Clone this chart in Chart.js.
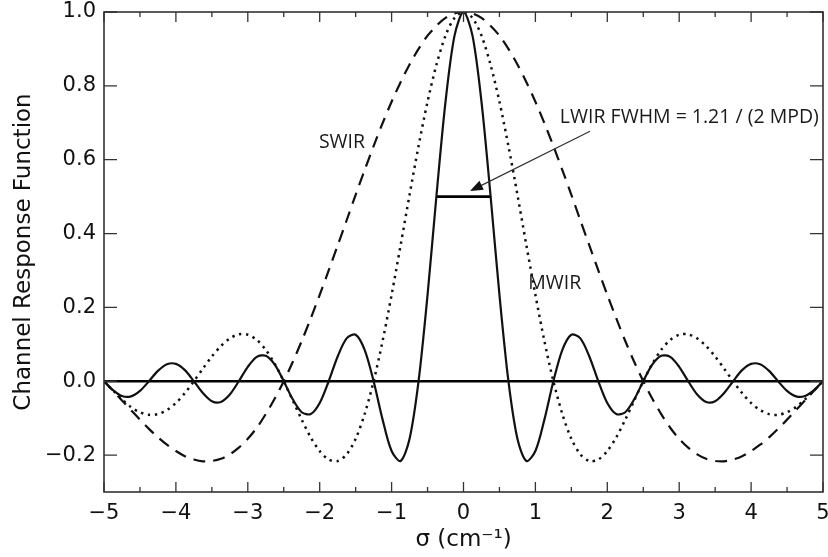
<!DOCTYPE html>
<html>
<head>
<meta charset="utf-8">
<script src="https://cdn.jsdelivr.net/npm/chart.js@4.4.1/dist/chart.umd.min.js"></script>
<style>
  html, body { margin: 0; padding: 0; background: #fff; }
</style>
</head>
<body>
<canvas id="grafico" width="828" height="557"></canvas>
<script>
// Numero de onda sigma (cm-1), paso de 0.125
let sigma = [
  -5, -4.875, -4.75, -4.625, -4.5, -4.375, -4.25, -4.125, -4, -3.875, -3.75, -3.625, -3.5, -3.375, -3.25, -3.125,
  -3, -2.875, -2.75, -2.625, -2.5, -2.375, -2.25, -2.125, -2, -1.875, -1.75, -1.625, -1.5, -1.375, -1.25, -1.125,
  -1, -0.875, -0.75, -0.625, -0.5, -0.375, -0.25, -0.125, 0,
  0.125, 0.25, 0.375, 0.5, 0.625, 0.75, 0.875, 1, 1.125, 1.25, 1.375, 1.5, 1.625, 1.75, 1.875, 2,
  2.125, 2.25, 2.375, 2.5, 2.625, 2.75, 2.875, 3, 3.125, 3.25, 3.375, 3.5, 3.625, 3.75, 3.875, 4,
  4.125, 4.25, 4.375, 4.5, 4.625, 4.75, 4.875, 5
];

// Respuesta del canal SWIR (linea discontinua)
let swir = [
  0, -0.026, -0.052, -0.078, -0.104, -0.129, -0.152, -0.172, -0.189, -0.203, -0.212, -0.217, -0.216, -0.210, -0.198, -0.180,
  -0.156, -0.126, -0.089, -0.047, 0, 0.052, 0.109, 0.170, 0.234, 0.300, 0.368, 0.436, 0.505, 0.572, 0.637, 0.699,
  0.757, 0.810, 0.858, 0.900, 0.936, 0.963, 0.984, 0.996, 1.000,
  0.996, 0.984, 0.963, 0.936, 0.900, 0.858, 0.810, 0.757, 0.699, 0.637, 0.572, 0.505, 0.436, 0.368, 0.300, 0.234,
  0.170, 0.109, 0.052, 0, -0.047, -0.089, -0.126, -0.156, -0.180, -0.198, -0.210, -0.216, -0.217, -0.212, -0.203, -0.189,
  -0.172, -0.152, -0.129, -0.104, -0.078, -0.052, -0.026, 0
];

// Respuesta del canal MWIR (linea punteada)
let mwir = [
  0, -0.025, -0.049, -0.070, -0.084, -0.091, -0.089, -0.078, -0.059, -0.032, 0, 0.034, 0.067, 0.095, 0.116, 0.127,
  0.126, 0.112, 0.085, 0.047, 0, -0.052, -0.104, -0.152, -0.189, -0.212, -0.216, -0.198, -0.156, -0.089, 0, 0.109,
  0.234, 0.368, 0.505, 0.637, 0.757, 0.858, 0.936, 0.984, 1.000,
  0.984, 0.936, 0.858, 0.757, 0.637, 0.505, 0.368, 0.234, 0.109, 0, -0.089, -0.156, -0.198, -0.216, -0.212, -0.189,
  -0.152, -0.104, -0.052, 0, 0.047, 0.085, 0.112, 0.126, 0.127, 0.116, 0.095, 0.067, 0.034, 0, -0.032, -0.059,
  -0.078, -0.089, -0.091, -0.084, -0.070, -0.049, -0.025, 0
];

// Respuesta del canal LWIR (linea continua)
let lwir = [
  0, -0.024, -0.040, -0.041, -0.026, 0, 0.028, 0.046, 0.047, 0.030, 0, -0.032, -0.054, -0.056, -0.036, 0,
  0.039, 0.066, 0.069, 0.045, 0, -0.049, -0.084, -0.089, -0.059, 0, 0.067, 0.116, 0.126, 0.085, 0, -0.104,
  -0.189, -0.216, -0.156, 0, 0.234, 0.505, 0.757, 0.936, 1.000,
  0.936, 0.757, 0.505, 0.234, 0, -0.156, -0.216, -0.189, -0.104, 0, 0.085, 0.126, 0.116, 0.067, 0, -0.059,
  -0.089, -0.084, -0.049, 0, 0.045, 0.069, 0.066, 0.039, 0, -0.036, -0.056, -0.054, -0.032, 0, 0.030, 0.047,
  0.046, 0.028, 0, -0.026, -0.041, -0.040, -0.024, 0
];

// Linea de cero y barra del FWHM
let ceroX = [-5, 5];
let ceroY = [0, 0];
let fwhmX = [-0.37, 0.37];
let fwhmY = [0.5, 0.5];

// Etiquetas de los ejes
let xTicks = [-5, -4, -3, -2, -1, 0, 1, 2, 3, 4, 5];
let yTicks = [-0.2, 0, 0.2, 0.4, 0.6, 0.8, 1.0];

// Textos sobre el grafico (coordenadas en unidades de datos)
let notas = [
  {texto: 'SWIR', x: -1.69, y: 0.647, align: 'center'},
  {texto: 'MWIR', x: 1.27, y: 0.265, align: 'center'},
  {texto: 'LWIR FWHM = 1.21 / (2 MPD)', x: 1.34, y: 0.715, align: 'left'}
];
let flecha = {desde: [1.76, 0.677], hasta: [0.09, 0.515]};

let menos = v => v < 0 ? '\u2212' + Math.abs(v) : String(v);
let puntos = (xs, ys) => xs.map((x, i) => ({x: x, y: ys[i]}));

let fuenteEje = {family: 'DejaVu Sans', size: 21};
let fuenteTitulo = {family: 'DejaVu Sans', size: 23};

let marcoPlugin = {
  id: 'marco',
  afterDatasetsDraw(chart) {
    let ctx = chart.ctx;
    let a = chart.chartArea;
    let sx = chart.scales.x;
    let sy = chart.scales.y;
    ctx.save();

    // Marco
    ctx.strokeStyle = '#333';
    ctx.lineWidth = 1.6;
    ctx.strokeRect(a.left, a.top, a.right - a.left, a.bottom - a.top);

    // Marcas hacia adentro
    ctx.lineWidth = 1.3;
    ctx.beginPath();
    for (let i = 0; i < xTicks.length; i++) {
      let px = sx.getPixelForValue(xTicks[i]);
      ctx.moveTo(px, a.bottom); ctx.lineTo(px, a.bottom - 10);
      ctx.moveTo(px, a.top); ctx.lineTo(px, a.top + 10);
      if (i < xTicks.length - 1) {
        let pm = sx.getPixelForValue(xTicks[i] + 0.5);
        ctx.moveTo(pm, a.bottom); ctx.lineTo(pm, a.bottom - 5);
        ctx.moveTo(pm, a.top); ctx.lineTo(pm, a.top + 5);
      }
    }
    yTicks.forEach(v => {
      let py = sy.getPixelForValue(v);
      ctx.moveTo(a.left, py); ctx.lineTo(a.left + 13, py);
      ctx.moveTo(a.right, py); ctx.lineTo(a.right - 13, py);
    });
    ctx.stroke();

    // Textos
    ctx.fillStyle = '#1a1a1a';
    ctx.font = '19.5px "Open Sans"';
    ctx.textBaseline = 'middle';
    notas.forEach(n => {
      ctx.textAlign = n.align;
      ctx.fillText(n.texto, sx.getPixelForValue(n.x), sy.getPixelForValue(n.y));
    });

    // Flecha
    let x0 = sx.getPixelForValue(flecha.desde[0]), y0 = sy.getPixelForValue(flecha.desde[1]);
    let x1 = sx.getPixelForValue(flecha.hasta[0]), y1 = sy.getPixelForValue(flecha.hasta[1]);
    let ang = Math.atan2(y1 - y0, x1 - x0);
    ctx.strokeStyle = '#333';
    ctx.lineWidth = 1.2;
    ctx.beginPath();
    ctx.moveTo(x0, y0);
    ctx.lineTo(x1 - 10 * Math.cos(ang), y1 - 10 * Math.sin(ang));
    ctx.stroke();
    ctx.fillStyle = '#111';
    ctx.beginPath();
    ctx.moveTo(x1, y1);
    ctx.lineTo(x1 - 13 * Math.cos(ang) + 5 * Math.sin(ang), y1 - 13 * Math.sin(ang) - 5 * Math.cos(ang));
    ctx.lineTo(x1 - 13 * Math.cos(ang) - 5 * Math.sin(ang), y1 - 13 * Math.sin(ang) + 5 * Math.cos(ang));
    ctx.closePath();
    ctx.fill();

    ctx.restore();
  }
};

let config = {
  type: 'line',
  data: {
    datasets: [
      {label: 'SWIR', data: puntos(sigma, swir), borderColor: '#111', borderWidth: 2.2, borderDash: [12, 8], tension: 0.3},
      {label: 'MWIR', data: puntos(sigma, mwir), borderColor: '#111', borderWidth: 2.5, borderDash: [2.4, 4.6], tension: 0.3},
      {label: 'LWIR', data: puntos(sigma, lwir), borderColor: '#111', borderWidth: 2.2, tension: 0.3},
      {label: 'cero', data: puntos(ceroX, ceroY), borderColor: '#000', borderWidth: 2.6, tension: 0},
      {label: 'FWHM', data: puntos(fwhmX, fwhmY), borderColor: '#000', borderWidth: 2.6, tension: 0}
    ]
  },
  options: {
    responsive: false,
    animation: false,
    devicePixelRatio: 1,
    elements: {point: {radius: 0}},
    layout: {padding: {top: 12, right: 5, left: 0, bottom: 0}},
    plugins: {legend: {display: false}, tooltip: {enabled: false}},
    scales: {
      x: {
        type: 'linear', min: -5, max: 5,
        afterBuildTicks: s => { s.ticks = xTicks.map(v => ({value: v})); },
        afterFit: s => { s.height = 65; s.paddingLeft = 0; s.paddingRight = 0; },
        grid: {display: false, drawTicks: false},
        border: {display: false},
        ticks: {font: fuenteEje, color: '#111', padding: 9, maxRotation: 0, autoSkip: false, callback: v => menos(v)},
        title: {display: true, text: 'σ (cm⁻¹)', font: fuenteTitulo, color: '#111', padding: {top: 0, bottom: 3}}
      },
      y: {
        type: 'linear', min: -0.3, max: 1.0,
        afterBuildTicks: s => { s.ticks = yTicks.map(v => ({value: v})); },
        afterFit: s => { s.width = 104; s.paddingTop = 0; s.paddingBottom = 0; },
        grid: {display: false, drawTicks: false},
        border: {display: false},
        ticks: {font: fuenteEje, color: '#111', padding: 8, autoSkip: false, callback: v => menos(v.toFixed(1))},
        title: {display: true, text: 'Channel Response Function', font: fuenteTitulo, color: '#111', padding: {top: 10, bottom: 0}}
      }
    }
  },
  plugins: [marcoPlugin]
};

new Chart(document.getElementById('grafico'), config);
</script>
</body>
</html>
